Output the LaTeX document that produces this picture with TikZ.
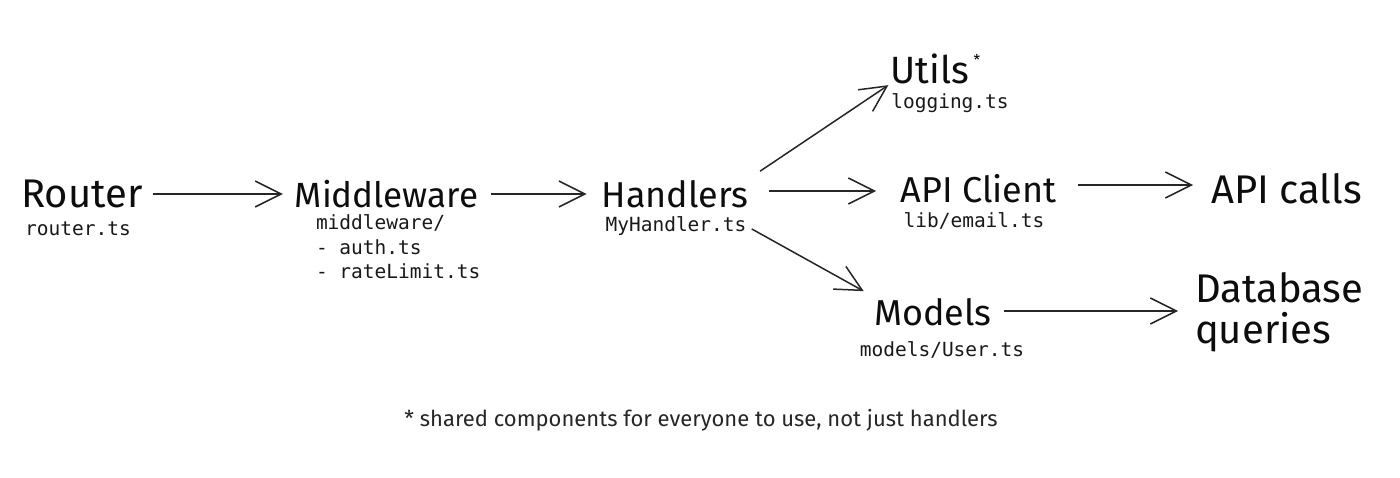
\documentclass[tikz,border=0pt]{standalone}
\usepackage{fontspec}
\setmainfont{Fira Sans}
\newfontfamily\codefont{DejaVu Sans Mono}
\usetikzlibrary{arrows.meta}
\tikzset{
  title/.style={font=\fontsize{36}{41}\selectfont, inner sep=0pt, outer sep=0pt, minimum height=30pt, text=black!95},
  code/.style={font=\codefont\fontsize{19.5}{24.5}\selectfont, inner sep=0pt, outer sep=0pt, text=black!90},
  arr/.style={line width=1.5pt, draw=black!85, -{Straight Barb[length=26pt,width=26pt,line width=1.5pt]}},
}
\begin{document}
\begin{tikzpicture}[x=1pt,y=-1pt]
\useasboundingbox[fill=white] (0,0) rectangle (1400,477);
% titles
\node[title, minimum width=120pt, font=\fontsize{40}{41}\selectfont] (router) at (82,194) {Router};
\node[title, minimum width=179pt, font=\fontsize{35}{41}\selectfont] (mw) at (386.5,194) {Middleware};
\node[title, minimum width=140pt] (handlers) at (675,194) {Handlers};
\node[title, minimum width=177pt] (apiclient) at (978.5,189) {API Client};
\node[title, minimum width=159pt, font=\fontsize{40}{41}\selectfont] (apicalls) at (1286.5,189) {API calls};
\node[title, minimum width=80pt, font=\fontsize{38}{41}\selectfont] (utils) at (930,69) {Utils};
\node[font=\fontsize{15}{15}\selectfont, inner sep=0pt] (star) at (977,60) {*};
\node[title, minimum width=110pt] (models) at (933,312) {Models};
\node[title, align=left, anchor=west, font=\fontsize{40}{41}\selectfont] (database) at (1195,312) {Database\\queries};
% code labels
\node[code] (routerts) at (78,229) {router.ts};
\node[code, align=left, anchor=west] (mwlist) at (316,247) {middleware/\\- auth.ts\\- rateLimit.ts};
\node[code] (myh) at (676,226) {MyHandler.ts};
\node[code] (libemail) at (974,221) {lib/email.ts};
\node[code] (logging) at (950,103) {logging.ts};
\node[code] (userts) at (942,350) {models/User.ts};
% footnote
\node[font=\fontsize{22}{25}\selectfont, inner sep=0pt, text=black!85] (note) at (701,420) {* shared components for everyone to use, not just handlers};
% arrows
\draw[arr, shorten <=10pt, shorten >=12pt] (router) -- (mw);
\draw[arr, shorten <=13pt, shorten >=15pt] (mw) -- (handlers);
\draw[arr, shorten <=21pt, shorten >=14pt] ([yshift=3pt]handlers.east) -- ([yshift=3pt]handlers.east -| apiclient.west);
\draw[arr, shorten <=11pt, shorten >=14pt] ([yshift=4pt]apiclient.east) -- ([yshift=4pt]apiclient.east -| apicalls.west);
\draw[arr, shorten <=12pt, shorten >=17pt] ([yshift=1pt]models.east) -- ([yshift=1pt]models.east -| database.west);
\draw[arr, shorten <=14pt, shorten >=2pt] (handlers.north east) -- (utils.south west);
\draw[arr, shorten <=6pt, shorten >=12pt] (myh.east) -- (models.north west);
\end{tikzpicture}
\end{document}
